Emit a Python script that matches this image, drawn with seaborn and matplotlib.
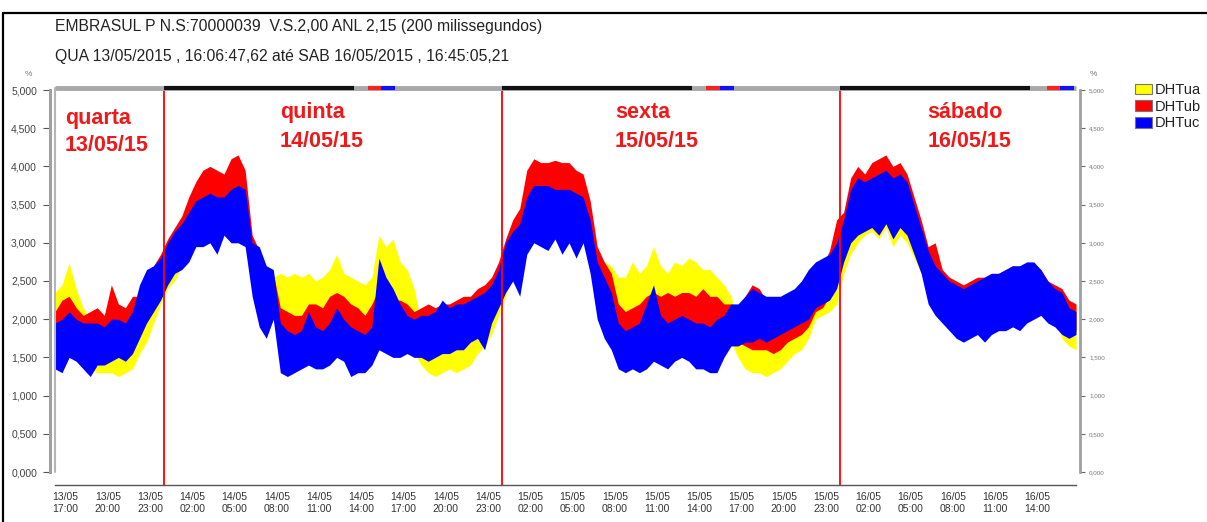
import numpy as np
import pandas as pd
import matplotlib
matplotlib.use("Agg")
import matplotlib.pyplot as plt
from matplotlib.patches import Patch
from matplotlib.lines import Line2D
import seaborn as sns

# ---------------------------------------------------------------------------
# Harmonic distortion readings (DHT, %), min / max per half-hour slot
# hours are counted from 13/05/2015 00:00 (slot centres 16.25 ... 88.75)
# ---------------------------------------------------------------------------
series_names = ["DHTua", "DHTub", "DHTuc"]
series_colors = ["#ffff00", "#ff0000", "#0000ff"]

horas = 16.25 + 0.5 * np.arange(146)

# values in hundredths of a percent
dhtua_max = [235, 245, 274, 240, 215, 200, 190, 190, 185, 180, 185, 190, 205, 230, 245, 260,
             285, 300, 315, 330, 350, 360, 360, 355, 350, 355, 360, 355, 295, 280, 255, 255, 260, 255, 260, 255,
             260, 250, 255, 265, 285, 260, 255, 250, 245, 255, 310, 295, 305, 275, 265, 240, 195, 185, 190, 185,
             180, 185, 190, 190, 200, 205, 220, 245,
             285, 300, 320, 350, 360, 365, 365, 360, 360, 360, 355, 345, 320, 285, 275, 270,
             255, 255, 275, 260, 270, 295, 270, 260, 275, 270, 280, 275, 265, 265, 255, 245, 230, 200, 195, 185,
             190, 190, 195, 190, 195, 200, 215, 230, 250, 260, 265, 285,
             310, 345, 360, 360, 365, 365, 370, 360, 365, 355, 340, 310, 295, 275, 265, 250, 245, 240, 245, 250,
             250, 250, 255, 255, 260, 260, 265, 260, 255, 245, 235, 230, 220, 215]
dhtua_min = [175, 160, 175, 150, 140, 135, 130, 130, 130, 125, 130, 135, 155, 170, 195, 220,
             240, 250, 270, 280, 300, 310, 320, 310, 320, 320, 320, 310, 240, 210, 200, 205, 175, 200, 205, 200,
             200, 195, 200, 200, 210, 200, 195, 190, 190, 200, 200, 210, 205, 200, 195, 155, 140, 130, 125, 130,
             135, 130, 135, 140, 155, 165, 180, 205,
             230, 260, 275, 300, 320, 320, 320, 320, 320, 320, 310, 310, 280, 230, 210, 205,
             200, 200, 205, 200, 200, 210, 205, 200, 210, 210, 210, 205, 200, 200, 195, 190, 170, 150, 135, 130,
             130, 125, 130, 135, 145, 155, 160, 175, 200, 205, 210, 220,
             260, 285, 300, 310, 315, 305, 320, 295, 310, 300, 280, 260, 240, 230, 220, 210, 205, 200, 200, 205,
             200, 205, 210, 210, 215, 210, 220, 220, 215, 205, 200, 175, 165, 160]

dhtub_max = [210, 225, 230, 215, 205, 210, 215, 205, 245, 220, 215, 230, 230, 250, 270, 285,
             305, 320, 335, 360, 380, 395, 400, 395, 390, 410, 415, 395, 310, 290, 265, 260, 215, 210, 205, 205,
             220, 220, 215, 230, 235, 230, 220, 215, 205, 220, 240, 230, 225, 225, 220, 210, 215, 220, 215, 220,
             220, 225, 230, 230, 240, 245, 255, 275,
             305, 330, 345, 395, 410, 405, 405, 408, 405, 405, 395, 390, 355, 295, 275, 260,
             220, 210, 215, 220, 230, 235, 230, 235, 230, 235, 235, 230, 240, 230, 230, 220, 220, 215, 230, 245,
             240, 225, 220, 205, 210, 220, 230, 245, 260, 270, 290, 330,
             340, 385, 400, 390, 405, 410, 415, 400, 405, 390, 360, 330, 295, 300, 265, 255, 250, 245, 250, 255,
             255, 260, 260, 265, 270, 265, 270, 270, 265, 250, 245, 240, 225, 220]
dhtub_min = [165, 170, 180, 170, 165, 160, 160, 155, 160, 165, 170, 170, 185, 200, 220, 235,
             255, 270, 285, 300, 320, 335, 345, 340, 345, 350, 355, 340, 260, 230, 215, 210, 160, 170, 165, 170,
             170, 175, 175, 180, 185, 180, 170, 165, 165, 175, 180, 180, 175, 175, 170, 170, 175, 180, 175, 175,
             180, 185, 185, 190, 195, 200, 205, 220,
             250, 275, 290, 320, 350, 345, 350, 350, 345, 350, 340, 335, 295, 240, 210, 200,
             170, 165, 170, 170, 175, 180, 175, 180, 180, 185, 180, 175, 180, 175, 180, 180, 175, 170, 165, 160,
             160, 160, 155, 160, 170, 175, 180, 190, 210, 215, 230, 250,
             280, 320, 330, 335, 340, 335, 345, 330, 340, 330, 300, 280, 245, 230, 215, 205, 200, 195, 200, 205,
             200, 205, 210, 210, 215, 215, 215, 220, 220, 210, 205, 195, 180, 185]

dhtuc_max = [195, 200, 210, 200, 195, 195, 195, 190, 200, 200, 195, 210, 245, 265, 270, 280,
             300, 315, 325, 340, 355, 360, 365, 360, 360, 370, 375, 370, 300, 295, 270, 265, 195, 185, 180, 185,
             210, 190, 185, 195, 215, 200, 190, 185, 180, 190, 280, 255, 240, 220, 205, 200, 205, 205, 210, 225,
             215, 220, 220, 225, 230, 235, 245, 265,
             300, 315, 325, 360, 375, 375, 375, 370, 370, 370, 365, 360, 330, 275, 255, 235,
             195, 185, 190, 195, 220, 245, 205, 195, 200, 205, 200, 195, 195, 190, 200, 205, 220, 220, 230, 240,
             235, 230, 230, 230, 235, 240, 250, 265, 275, 280, 285, 300,
             330, 370, 385, 380, 385, 390, 395, 385, 390, 380, 350, 320, 290, 270, 260, 250, 245, 240, 245, 250,
             255, 260, 260, 265, 270, 270, 275, 275, 265, 250, 240, 235, 215, 210]
dhtuc_min = [135, 130, 150, 145, 135, 125, 140, 140, 145, 150, 145, 155, 175, 195, 210, 225,
             245, 260, 265, 275, 295, 295, 300, 285, 310, 300, 300, 295, 230, 190, 175, 200, 130, 125, 130, 135,
             140, 135, 135, 140, 150, 145, 125, 130, 130, 140, 160, 155, 150, 150, 155, 150, 150, 145, 150, 155,
             155, 160, 160, 170, 175, 160, 195, 215,
             235, 250, 230, 285, 300, 295, 290, 305, 285, 300, 280, 300, 260, 200, 175, 160,
             135, 130, 135, 130, 135, 145, 140, 135, 145, 150, 145, 135, 135, 130, 130, 150, 165, 165, 170, 170,
             175, 170, 175, 180, 185, 190, 195, 200, 215, 220, 225, 240,
             275, 300, 310, 315, 320, 310, 325, 305, 320, 310, 285, 260, 220, 205, 195, 185, 175, 170, 175, 180,
             170, 180, 185, 185, 190, 185, 195, 200, 205, 195, 190, 180, 175, 180]

# axis ticks
y_ticks = [0.0, 0.5, 1.0, 1.5, 2.0, 2.5, 3.0, 3.5, 4.0, 4.5, 5.0]
y_tick_labels = ["0,000", "0,500", "1,000", "1,500", "2,000", "2,500",
                 "3,000", "3,500", "4,000", "4,500", "5,000"]
x_ticks = list(range(17, 87, 3))
x_tick_labels = ["13/05\n17:00", "13/05\n20:00", "13/05\n23:00",
                 "14/05\n02:00", "14/05\n05:00", "14/05\n08:00", "14/05\n11:00",
                 "14/05\n14:00", "14/05\n17:00", "14/05\n20:00", "14/05\n23:00",
                 "15/05\n02:00", "15/05\n05:00", "15/05\n08:00", "15/05\n11:00",
                 "15/05\n14:00", "15/05\n17:00", "15/05\n20:00", "15/05\n23:00",
                 "16/05\n02:00", "16/05\n05:00", "16/05\n08:00", "16/05\n11:00",
                 "16/05\n14:00"]
midnights = [24, 48, 72]
day_names = ["quarta", "quinta", "sexta", "sábado"]
day_dates = ["13/05/15", "14/05/15", "15/05/15", "16/05/15"]

title_1 = "EMBRASUL P N.S:70000039  V.S.2,00 ANL 2,15 (200 milissegundos)"
title_2 = "QUA 13/05/2015 , 16:06:47,62 até SAB 16/05/2015 , 16:45:05,21"

# ---------------------------------------------------------------------------
rows = []
for name, hi, lo in zip(series_names,
                        [dhtua_max, dhtub_max, dhtuc_max],
                        [dhtua_min, dhtub_min, dhtuc_min]):
    for t, a, b in zip(horas, hi, lo):
        rows.append((name, t, a / 100.0))
        rows.append((name, t, b / 100.0))
df = pd.DataFrame(rows, columns=["serie", "hora", "valor"])

sns.set_style("white")
plt.rcParams["font.family"] = ["Liberation Sans", "DejaVu Sans"]

W, H = 1207, 522
PT = 72 / 100  # points per pixel at 100 dpi
fig = plt.figure(figsize=(W / 100, H / 100), dpi=100)
fig.patch.set_facecolor("white")

# outer window border (top and left)
fig.add_artist(Line2D([3 / W, 1], [1 - 13 / H, 1 - 13 / H], color="black", lw=1.6))
fig.add_artist(Line2D([3 / W, 3 / W], [0, 1 - 13 / H], color="black", lw=1.6))

fig.text(55 / W, 1 - 27 / H, title_1, fontsize=11.3, color="#222222", va="center")
fig.text(55 / W, 1 - 57 / H, title_2, fontsize=11.3, color="#222222", va="center")
fig.text(28 / W, 1 - 74 / H, "%", fontsize=6, color="#777777", ha="center", va="center")
fig.text(1093 / W, 1 - 74 / H, "%", fontsize=6, color="#777777", ha="center", va="center")

ax = fig.add_axes([55 / W, 50 / H, 1021 / W, 382 / H])
ax.set_facecolor("white")

# min-max band of every phase (percentile interval 0..100 of each slot)
sns.lineplot(data=df, x="hora", y="valor", hue="serie", hue_order=series_names,
             palette=series_colors, estimator="mean", errorbar=("pi", 100),
             err_kws={"alpha": 1.0, "linewidth": 0}, linewidth=0,
             legend=False, ax=ax)

ax.set_xlim(16.25, 88.75)
ax.set_ylim(0, 5)
ax.set_xlabel("")
ax.set_ylabel("")

# midnight separators
ax.vlines(midnights, -0.17, 5.03, colors="#ff0000", lw=1.3, clip_on=False, zorder=5)

# top navigation strip
strip_y = 5.03
ax.plot([16.25, 88.75], [strip_y, strip_y], color="#a8a8a8", lw=3.5, clip_on=False,
        solid_capstyle="butt", zorder=6)
ax.hlines([strip_y] * 3, [24, 48, 72], [37.5, 61.5, 85.5], colors="#111111", lw=3,
          clip_on=False, zorder=7)
ax.hlines([strip_y] * 3, [38.5, 62.5, 86.7], [39.4, 63.5, 87.6], colors="#ff2020", lw=3,
          clip_on=False, zorder=7)
ax.hlines([strip_y] * 3, [39.4, 63.5, 87.6], [40.4, 64.5, 88.6], colors="#1010ff", lw=3,
          clip_on=False, zorder=7)
ax.plot([0, 0], [0, 1.005], transform=ax.transAxes, color="#b5b5b5", lw=1.5,
        clip_on=False, zorder=6)

# day captions
day_pos = [(16.96, 4.63, 4.28), (32.23, 4.71, 4.33), (56.02, 4.71, 4.33), (78.18, 4.71, 4.33)]
for (xh, y1, y2), nm, dt in zip(day_pos, day_names, day_dates):
    ax.text(xh, y1, nm, color="#f01818", fontsize=15.5, fontweight="bold", ha="left", va="center")
    ax.text(xh, y2, dt, color="#f01818", fontsize=15.5, fontweight="bold", ha="left", va="center")

# axes
for s in ["top", "right"]:
    ax.spines[s].set_visible(False)
ax.spines["left"].set_position(("outward", 5 * PT))
ax.spines["left"].set_color("#a0a0a0")
ax.spines["left"].set_linewidth(2.2)
ax.spines["bottom"].set_position(("outward", 13 * PT))
ax.spines["bottom"].set_color("#555555")
ax.spines["bottom"].set_linewidth(1.0)

ax.set_yticks(y_ticks)
ax.set_yticklabels(y_tick_labels)
ax.set_xticks(x_ticks)
ax.set_xticklabels(x_tick_labels, linespacing=1.35)
ax.tick_params(axis="y", direction="out", length=7 * PT, width=0.8, color="#555555",
               labelsize=7.5, labelcolor="#444444", pad=6 * PT)
ax.tick_params(axis="x", direction="inout", length=7 * PT, width=0.8, color="#555555",
               labelsize=7.5, labelcolor="#333333", pad=3 * PT)

ax2 = ax.twinx()
ax2.set_ylim(0, 5)
for s in ["top", "left", "bottom"]:
    ax2.spines[s].set_visible(False)
ax2.spines["right"].set_position(("outward", 4 * PT))
ax2.spines["right"].set_color("#a0a0a0")
ax2.spines["right"].set_linewidth(2.0)
ax2.set_yticks(y_ticks)
ax2.set_yticklabels(y_tick_labels)
ax2.tick_params(axis="y", direction="out", length=5 * PT, width=0.8, color="#666666",
                labelsize=4.5, labelcolor="#777777", pad=4 * PT)

handles = [Patch(facecolor=c, edgecolor="#777777", linewidth=0.8) for c in series_colors]
fig.legend(handles, series_names, loc="upper left",
           bbox_to_anchor=(1135 / W, 1 - 83 / H), frameon=False, fontsize=10.5,
           handlelength=1.15, handleheight=0.75, handletextpad=0.2,
           labelspacing=0.18, borderpad=0, borderaxespad=0, labelcolor="#222222")

fig.savefig("out.png", dpi=100)
